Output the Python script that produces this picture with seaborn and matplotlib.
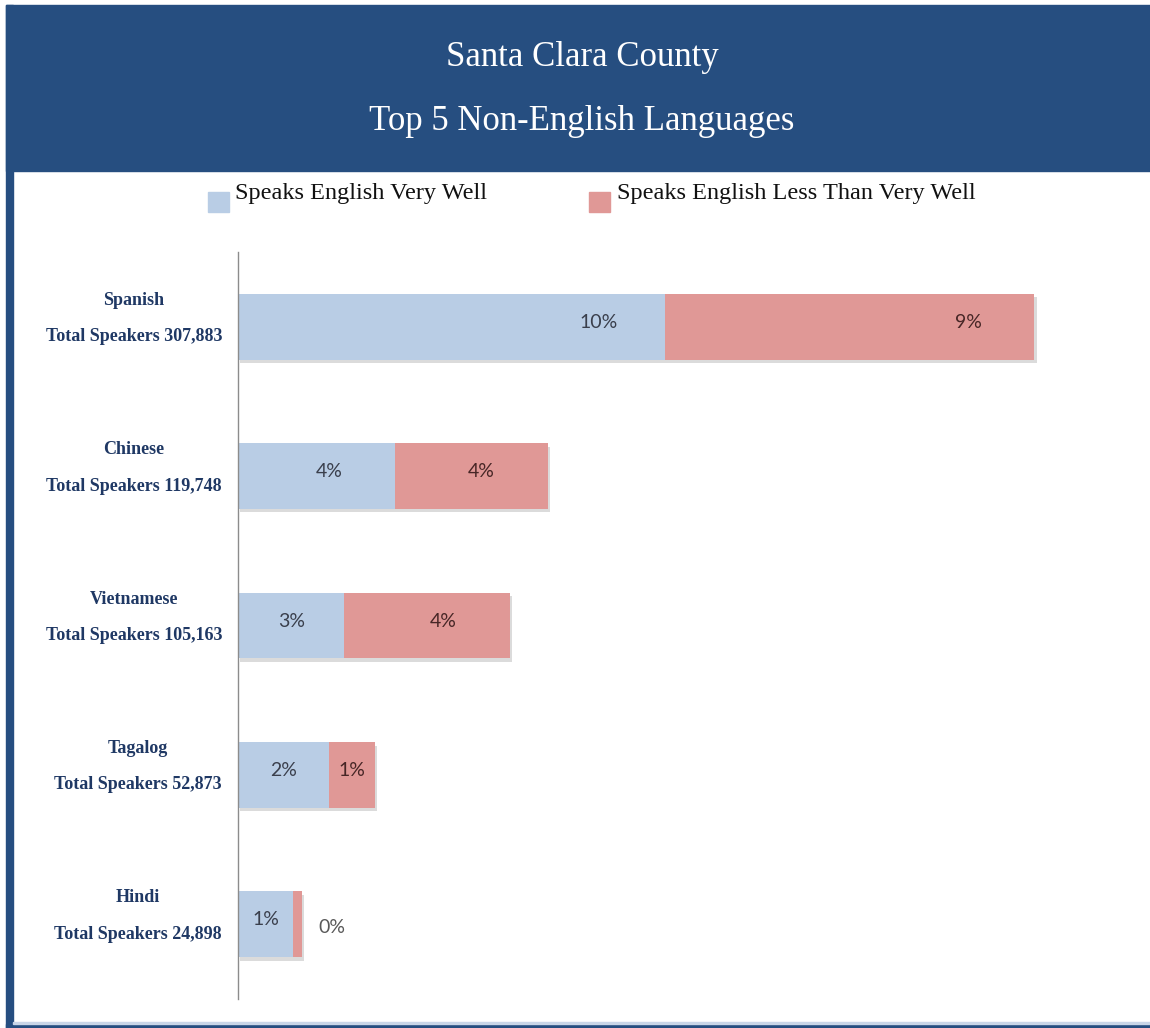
import matplotlib
matplotlib.use("Agg")
import matplotlib.pyplot as plt
import matplotlib.patheffects as pe
import matplotlib.transforms as mtransforms
from matplotlib.patches import Rectangle
import pandas as pd
import seaborn as sns

# Share of county residents (age 5+) speaking each language, in percent
languages = ["Spanish", "Chinese", "Vietnamese", "Tagalog", "Hindi"]
total_speakers = ["307,883", "119,748", "105,163", "52,873", "24,898"]
very_well = [10.28, 3.79, 2.56, 2.18, 1.33]
less_than_very_well = [8.90, 3.67, 3.99, 1.11, 0.22]
series_names = ["Speaks English Very Well", "Speaks English Less Than Very Well"]
title_lines = ["Santa Clara County", "Top 5 Non-English Languages"]

BLUE = "#B9CDE5"
RED = "#E09896"
NAVY = "#264E80"
LABEL_NAVY = "#1F3864"

W, H = 1150, 1028

sns.set_theme(style="white")
plt.rcParams["font.family"] = ["Liberation Serif", "DejaVu Serif"]

fig = plt.figure(figsize=(W / 100, H / 100), dpi=100)
fig.patch.set_facecolor("white")


def fx(px):
    return px / W


def fy(py):
    return 1 - py / H


# Frame: title banner, left border and bottom border
fig.patches.append(Rectangle((fx(6), fy(171)), fx(W - 6), 166 / H,
                             transform=fig.transFigure, color=NAVY, zorder=0))
fig.patches.append(Rectangle((fx(6), 0), fx(7), fy(5),
                             transform=fig.transFigure, color=NAVY, zorder=0))
fig.patches.append(Rectangle((fx(6), 0), fx(W - 6), 4 / H,
                             transform=fig.transFigure, color=NAVY, zorder=0))
fig.patches.append(Rectangle((fx(13), 4 / H), fx(W - 13), 2 / H,
                             transform=fig.transFigure, color="#C9D6E8", zorder=0))

for text, ypx in zip(title_lines, [57, 121]):
    fig.text(fx(582), fy(ypx), text, ha="center", va="center",
             color="white", fontsize=25)

# Legend
legend_items = [(208, 235, BLUE, series_names[0]), (589, 617, RED, series_names[1])]
for sq_x, tx, col, name in legend_items:
    fig.patches.append(Rectangle((fx(sq_x), fy(212)), fx(21), 20 / H,
                                 transform=fig.transFigure, color=col, zorder=1))
    fig.text(fx(tx), fy(194), name, ha="left", va="center",
             color="#111111", fontsize=17.5)

df = pd.DataFrame({
    "label": [f"{lang}\nTotal Speakers {tot}" for lang, tot in zip(languages, total_speakers)],
    "very_well": very_well,
    "less": less_than_very_well,
})
df["total"] = df["very_well"] + df["less"]

ax = fig.add_axes([fx(238), fy(999), fx(1110 - 238), (999 - 252) / H])
ax.set_facecolor("none")

sns.barplot(data=df, x="total", y="label", color=RED, width=0.44,
            saturation=1, linewidth=0, errorbar=None, ax=ax)
n = len(df)
for patch in ax.patches[:n]:
    patch.set_path_effects([
        pe.SimplePatchShadow(offset=(1.5, -2.5), shadow_rgbFace="#808080", alpha=0.28),
        pe.Normal(),
    ])
sns.barplot(data=df, x="very_well", y="label", color=BLUE, width=0.44,
            saturation=1, linewidth=0, errorbar=None, ax=ax)

# Value labels
label_font = dict(fontfamily=["Lato", "DejaVu Sans"], fontsize=14,
                  ha="center", va="center")
for i, row in df.iterrows():
    segments = [(0.0, row["very_well"], "#3A3F4C"),
                (row["very_well"], row["less"], "#472626")]
    for left, w, col in segments:
        text = f"{w:.0f}%"
        if w < 0.5:
            ax.text(left + w + 0.7, i + 0.02, text, color="#595959", **label_font)
        else:
            x = max(left + w / 2, left + w - 1.6)
            ax.text(x, i - 0.03, text, color=col, **label_font)

# Category labels, drawn as two centred lines to the left of the axis
ax.set_yticklabels([])
ax.tick_params(axis="y", length=0)
cat_trans = mtransforms.blended_transform_factory(ax.transAxes, ax.transData)
for i, lab in enumerate(df["label"]):
    ax.text(-16 / 872, i - 0.055, lab, transform=cat_trans, ha="right",
            va="center", multialignment="center", linespacing=2.5,
            color=LABEL_NAVY, fontsize=13, fontweight="bold", clip_on=False)

ax.set_xlim(0, 21)
ax.set_ylim(n - 0.5, -0.5)
ax.set_xticks([])
ax.set_xlabel("")
ax.set_ylabel("")

for side in ["top", "right", "bottom"]:
    ax.spines[side].set_visible(False)
ax.spines["left"].set_color("#8C8C8C")
ax.spines["left"].set_linewidth(1)

fig.savefig("out.png", dpi=100)
